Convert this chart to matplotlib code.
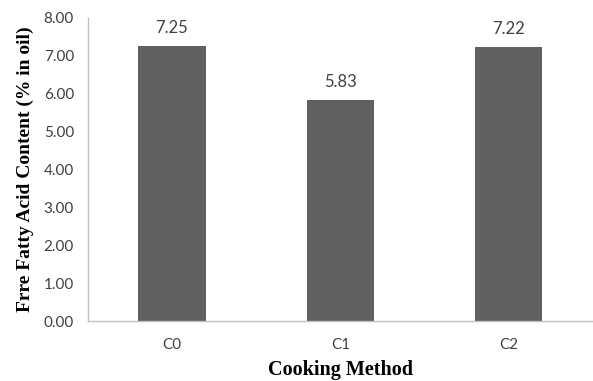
import matplotlib
matplotlib.use("Agg")
import matplotlib.pyplot as plt

categories = ["C0", "C1", "C2"]
values = [7.25, 5.83, 7.22]
yticks = [0, 1, 2, 3, 4, 5, 6, 7, 8]

fig = plt.figure(figsize=(5.93, 3.81), dpi=100)
ax = fig.add_axes([0.148, 0.157, 0.852, 0.796])
x = range(len(categories))
ax.bar(x, values, width=0.40, color="#606060")
for xi, v in zip(x, values):
    ax.text(xi, v + 0.28, f"{v:.2f}", ha="center", va="bottom", fontsize=12,
            color="#404040", family="Lato")
ax.set_xlim(-0.5, 2.5)
ax.set_ylim(0, 8)
ax.set_xticks(list(x))
ax.set_xticklabels(categories, family="Lato", fontsize=11, color="#404040")
ax.set_yticks(yticks)
ax.set_yticklabels([f"{t:.2f}" for t in yticks], family="Lato", fontsize=11, color="#404040")
ax.tick_params(length=0, pad=10)
ax.tick_params(axis="x", pad=12)
for s in ["top", "right"]:
    ax.spines[s].set_visible(False)
for s in ["left", "bottom"]:
    ax.spines[s].set_color("#c0c0c0")
    ax.spines[s].set_linewidth(1.0)
ax.set_xlabel("Cooking Method", family="Liberation Serif", fontweight="bold", fontsize=14.5, labelpad=6)
ax.set_ylabel("Frre Fatty Acid Content (% in oil)", family="Liberation Serif", fontweight="bold", fontsize=14, labelpad=7)
fig.savefig("out.png", dpi=100)
